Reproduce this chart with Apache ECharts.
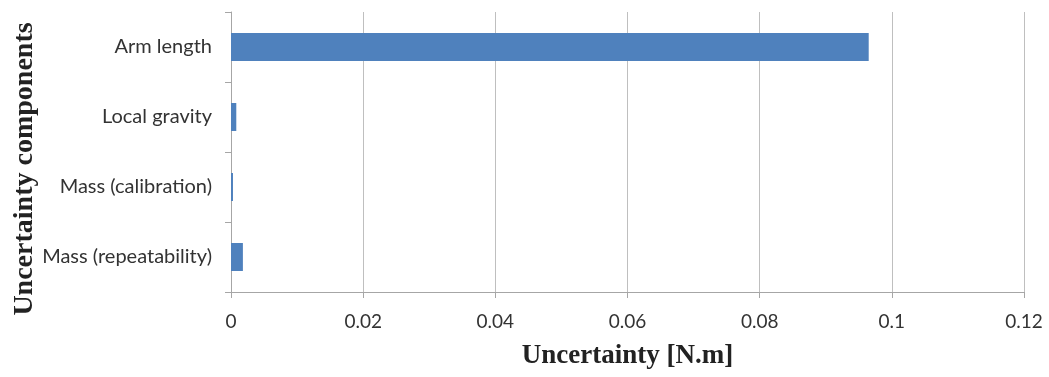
<!DOCTYPE html>
<html>
<head>
<meta charset="utf-8">
<script src="https://cdn.jsdelivr.net/npm/echarts@6/dist/echarts.min.js"></script>
<style>html,body{margin:0;padding:0;background:#fff;}#c{width:1049px;height:377px;}</style>
</head>
<body>
<div id="c"></div>
<script>
const categories = ["Mass (repeatability)", "Mass (calibration)", "Local gravity", "Arm length"];
const values = [0.0018, 0.0003, 0.0008, 0.0965];
const xTicks = [0, 0.02, 0.04, 0.06, 0.08, 0.1, 0.12];

const chart = echarts.init(document.getElementById('c'));
chart.setOption({
  animation: false,
  grid: { left: 231, right: 25, top: 12, bottom: 85, containLabel: false, outerBoundsMode: 'none' },
  xAxis: {
    type: 'value', min: 0, max: 0.12, interval: 0.02,
    name: 'Uncertainty [N.m]', nameLocation: 'middle', nameGap: 51, nameMoveOverlap: false,
    nameTextStyle: { fontFamily: 'Liberation Serif', fontWeight: 'bold', fontSize: 27, color: '#222' },
    axisLine: { show: true, lineStyle: { color: '#a6a6a6', width: 1 } },
    axisTick: { show: true, length: 6, lineStyle: { color: '#a6a6a6' } },
    axisLabel: { margin: 20, fontFamily: 'Lato', fontSize: 19, color: '#333',
      formatter: v => String(+v.toFixed(2)) },
    splitLine: { show: true, lineStyle: { color: '#bfbfbf', width: 1 } }
  },
  yAxis: {
    type: 'category', data: categories,
    name: 'Uncertainty components', nameLocation: 'middle', nameGap: 192, nameRotate: 90,
    nameMoveOverlap: false,
    nameTextStyle: { fontFamily: 'Liberation Serif', fontWeight: 'bold', fontSize: 28, color: '#222',
      padding: [0, 34, 0, 0] },
    axisLine: { show: true, lineStyle: { color: '#a6a6a6', width: 1 } },
    axisTick: { show: true, length: 6, lineStyle: { color: '#a6a6a6' } },
    axisLabel: { margin: 19, fontFamily: 'Lato', fontSize: 20, color: '#333' },
    splitLine: { show: false }
  },
  series: [{
    type: 'bar', data: values, barWidth: 28,
    itemStyle: { color: '#4f81bd' }
  }]
});
</script>
</body>
</html>
